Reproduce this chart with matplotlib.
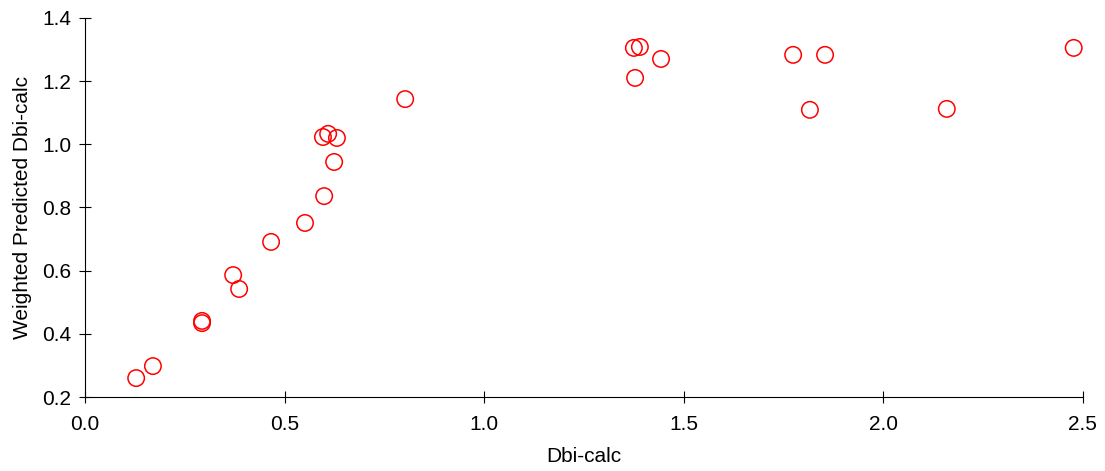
import matplotlib
matplotlib.use("Agg")
import matplotlib.pyplot as plt

plt.rcParams['font.family'] = ['Liberation Sans', 'DejaVu Sans']

dbi_calc = [0.128, 0.170, 0.293, 0.293, 0.371, 0.386, 0.466, 0.551, 0.599, 0.624,
            0.596, 0.609, 0.631, 0.802, 1.375, 1.390, 1.378, 1.443, 1.774, 1.854,
            1.816, 2.159, 2.477]
weighted_pred = [0.260, 0.298, 0.441, 0.434, 0.586, 0.542, 0.691, 0.751, 0.836, 0.944,
                 1.023, 1.033, 1.020, 1.143, 1.305, 1.308, 1.210, 1.270, 1.283, 1.283,
                 1.109, 1.112, 1.305]
x_ticks = [0.0, 0.5, 1.0, 1.5, 2.0, 2.5]
y_ticks = [0.2, 0.4, 0.6, 0.8, 1.0, 1.2, 1.4]

fig = plt.figure(figsize=(11.05, 4.71), dpi=100)
ax = fig.add_axes([0.077, 0.157, 0.903, 0.805])
ax.scatter(dbi_calc, weighted_pred, s=140, facecolors="none", edgecolors="#ff0000", linewidths=1.1)
ax.set_xlim(0, 2.5)
ax.set_ylim(0.2, 1.4)
ax.set_xticks(x_ticks)
ax.set_yticks(y_ticks)
ax.set_xticklabels([f"{v:.1f}" for v in x_ticks])
ax.set_yticklabels([f"{v:.1f}" for v in y_ticks])
for s in ["top", "right"]:
    ax.spines[s].set_visible(False)
ax.tick_params(direction="inout", length=8, labelsize=15)
ax.tick_params(axis="x", pad=9)
ax.tick_params(axis="y", pad=6)
ax.set_xlabel("Dbi-calc", fontsize=15, labelpad=9)
ax.set_ylabel("Weighted Predicted Dbi-calc", fontsize=15, labelpad=7)
fig.savefig("out.png", dpi=100)
